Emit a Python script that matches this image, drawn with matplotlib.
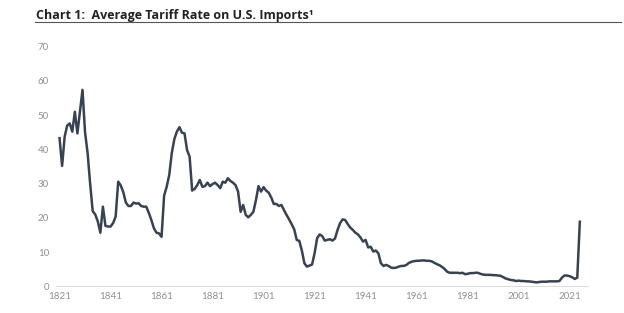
import matplotlib
matplotlib.use('Agg')
import matplotlib.pyplot as plt

# average tariff rate (duties / total imports, %), one value per year 1821-2025
first_year = 1821
rates = [
    43.3, 35.2, 43.7, 47.0, 47.6, 45.2, 51.0, 44.7, 51.0,        # 1821-1829
    57.4, 45.0, 39.0, 30.0, 22.0, 21.0, 19.0, 15.7, 23.3, 17.7,  # 1830-1839
    17.5, 17.5, 18.5, 20.4, 30.6, 29.5, 27.5, 24.5, 23.5, 23.5,  # 1840-1849
    24.5, 24.2, 24.3, 23.5, 23.3, 23.3, 21.5, 19.4, 17.0, 15.7,  # 1850-1859
    15.5, 14.5, 26.5, 29.1, 32.5, 38.9, 43.0, 45.2, 46.5, 44.9,  # 1860-1869
    44.7, 39.8, 37.9, 28.0, 28.5, 29.6, 31.1, 29.1, 29.3, 30.3,  # 1870-1879
    29.3, 29.9, 30.3, 29.6, 28.7, 30.6, 30.3, 31.6, 30.8, 30.3,  # 1880-1889
    29.6, 27.7, 21.8, 23.8, 20.9, 20.2, 20.9, 21.8, 25.2, 29.3,  # 1890-1899
    27.7, 29.0, 28.0, 27.4, 26.0, 24.1, 24.1, 23.5, 23.8, 22.3,  # 1900-1909
    20.9, 19.6, 18.2, 16.7, 13.6, 13.3, 10.5, 6.8, 5.8, 6.1,     # 1910-1919
    6.4, 9.7, 14.1, 15.2, 14.7, 13.4, 13.6, 13.8, 13.4, 14.0,    # 1920-1929
    16.5, 18.5, 19.6, 19.4, 18.2, 17.2, 16.5, 15.7, 15.2, 14.3,  # 1930-1939
    13.1, 13.6, 11.4, 11.6, 10.2, 10.5, 9.7, 6.8, 6.0, 6.3,      # 1940-1949
    6.0, 5.5, 5.4, 5.5, 5.8, 6.0, 6.0, 6.3, 6.9, 7.2,            # 1950-1959
    7.4, 7.5, 7.5, 7.6, 7.6, 7.5, 7.5, 7.3, 6.9, 6.5,            # 1960-1969
    6.2, 5.7, 5.1, 4.3, 4.0, 4.0, 4.0, 4.0, 3.9, 4.0,            # 1970-1979
    3.6, 3.7, 3.9, 3.9, 4.0, 4.0, 3.7, 3.5, 3.4, 3.4,            # 1980-1989
    3.4, 3.3, 3.3, 3.2, 3.1, 2.7, 2.3, 2.1, 1.9, 1.8,            # 1990-1999
    1.6, 1.7, 1.6, 1.6, 1.5, 1.5, 1.4, 1.3, 1.2, 1.3,            # 2000-2009
    1.4, 1.4, 1.4, 1.5, 1.5, 1.5, 1.5, 1.6, 2.6, 3.2,            # 2010-2019
    3.2, 3.0, 2.7, 2.2, 2.6, 18.9,                               # 2020-2025
]
years = list(range(first_year, first_year + len(rates)))

x_ticks = list(range(1821, 2022, 20))
y_ticks = [0, 10, 20, 30, 40, 50, 60, 70]

title = 'Chart 1:  Average Tariff Rate on U.S. Imports\u00b9'

plt.rcParams['font.family'] = ['Lato', 'DejaVu Sans']

fig = plt.figure(figsize=(6.24, 3.13), dpi=100)
ax = fig.add_axes([0.0897, 0.0847, 0.853, 0.7661])

ax.plot(years, rates, color='#374253', linewidth=1.8, solid_joinstyle='round')

ax.set_xlim(1819.6, 2028.3)
ax.set_ylim(0, 70)
ax.set_xticks(x_ticks)
ax.set_yticks(y_ticks)
ax.tick_params(axis='both', length=0, labelsize=7, labelcolor='#909090')
ax.tick_params(axis='y', pad=5)
ax.tick_params(axis='x', pad=4)

for side in ['top', 'right', 'left']:
    ax.spines[side].set_visible(False)
ax.spines['bottom'].set_color('#dddddd')
ax.spines['bottom'].set_linewidth(0.8)

fig.text(0.058, 0.94, title, fontsize=9, fontweight='bold', color='#222222',
         family=['Open Sans', 'DejaVu Sans'], ha='left', va='baseline')
fig.add_artist(plt.Line2D([0.056, 0.995], [0.93, 0.93], color='#555555',
                          linewidth=0.8, transform=fig.transFigure))

fig.savefig('out.png', dpi=100)
